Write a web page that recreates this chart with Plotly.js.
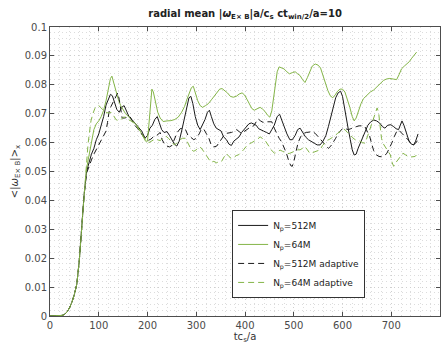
<!DOCTYPE html>
<html>
<head>
<meta charset="utf-8">
<script src="https://cdn.plot.ly/plotly-3.0.1.min.js"></script>
<style>
  html, body { margin: 0; padding: 0; background: #fff; }
  #chart { width: 448px; height: 344px; }
</style>
</head>
<body>
<div id="chart"></div>
<script>
// Shared start-up ramp (all runs grow together before saturating)
const rampT = [0, 20, 25, 30, 35, 40, 45, 50, 55, 60, 65, 70];
const rampV = [0, 0, 0.0002, 0.0006, 0.0014, 0.0028, 0.0048, 0.0075, 0.011, 0.019, 0.031, 0.042];

// N_p = 512M
const t512 = [75, 80, 85, 90, 95, 100, 105, 110, 115, 120, 124, 128, 132, 137, 142, 147, 152, 157, 162, 168, 175, 182, 188, 195, 200, 205, 210, 215, 220, 224, 229, 234, 240, 245, 250, 255, 260, 265, 270, 275, 280, 285, 289, 293, 298, 303, 308, 313, 318, 323, 327, 331, 336, 341, 346, 351, 356, 362, 367, 372, 377, 383, 388, 393, 398, 403, 408, 413, 418, 423, 428, 433, 438, 444, 450, 455, 460, 466, 471, 476, 481, 486, 492, 497, 503, 508, 513, 518, 524, 530, 536, 542, 548, 554, 560, 566, 571, 576, 581, 586, 591, 596, 600, 604, 608, 612, 616, 620, 624, 628, 632, 637, 642, 647, 652, 658, 664, 670, 676, 682, 687, 693, 699, 705, 710, 715, 719, 722, 726, 731, 736, 741, 746, 750, 755];
const v512 = [0.05, 0.053, 0.056, 0.058, 0.061, 0.063, 0.066, 0.069, 0.073, 0.0755, 0.0767, 0.0762, 0.074, 0.0715, 0.0705, 0.0722, 0.0728, 0.071, 0.069, 0.068, 0.0665, 0.065, 0.064, 0.0615, 0.0625, 0.065, 0.066, 0.068, 0.069, 0.067, 0.0645, 0.0635, 0.0638, 0.0625, 0.061, 0.0595, 0.0588, 0.0605, 0.064, 0.068, 0.0725, 0.0755, 0.076, 0.0735, 0.069, 0.066, 0.0645, 0.066, 0.068, 0.0705, 0.0712, 0.069, 0.0665, 0.065, 0.0645, 0.064, 0.062, 0.061, 0.0595, 0.059, 0.0605, 0.0615, 0.062, 0.0635, 0.0645, 0.0655, 0.0665, 0.0668, 0.0665, 0.066, 0.0648, 0.0645, 0.064, 0.0635, 0.063, 0.0645, 0.066, 0.069, 0.0698, 0.0675, 0.065, 0.063, 0.061, 0.061, 0.0625, 0.0645, 0.065, 0.0635, 0.062, 0.061, 0.0605, 0.0598, 0.0592, 0.0592, 0.0605, 0.0625, 0.0655, 0.069, 0.0725, 0.0755, 0.0772, 0.0778, 0.076, 0.072, 0.067, 0.0645, 0.061, 0.0575, 0.0557, 0.056, 0.058, 0.06, 0.0625, 0.0645, 0.066, 0.0672, 0.0678, 0.0675, 0.0668, 0.0655, 0.065, 0.066, 0.0662, 0.0655, 0.0648, 0.0645, 0.0665, 0.0675, 0.066, 0.063, 0.0608, 0.0595, 0.0592, 0.0605, 0.063];

// N_p = 64M
const t64 = [75, 80, 85, 90, 95, 100, 105, 110, 115, 120, 124, 127, 131, 135, 140, 145, 150, 155, 162, 170, 178, 185, 191, 196, 200, 203, 206, 209, 212, 216, 221, 226, 232, 240, 248, 256, 263, 270, 276, 281, 286, 290, 294, 298, 303, 308, 313, 319, 325, 331, 337, 343, 348, 353, 358, 364, 370, 376, 382, 388, 394, 399, 404, 409, 414, 419, 425, 431, 436, 441, 446, 451, 455, 459, 463, 466, 470, 475, 480, 486, 491, 497, 503, 508, 513, 518, 523, 528, 533, 538, 544, 550, 555, 560, 565, 570, 575, 580, 585, 590, 595, 600, 605, 610, 615, 620, 624, 628, 633, 638, 643, 650, 657, 664, 670, 677, 684, 690, 697, 704, 711, 716, 721, 727, 732, 737, 742, 747, 752];
const v64 = [0.051, 0.056, 0.061, 0.0645, 0.0665, 0.0675, 0.069, 0.0712, 0.0745, 0.079, 0.0822, 0.083, 0.0805, 0.078, 0.075, 0.0728, 0.0715, 0.07, 0.0688, 0.0675, 0.066, 0.064, 0.062, 0.0605, 0.0605, 0.066, 0.073, 0.0785, 0.0775, 0.074, 0.0705, 0.0685, 0.0673, 0.0675, 0.0676, 0.068, 0.0688, 0.0705, 0.0725, 0.075, 0.0775, 0.079, 0.0795, 0.077, 0.0745, 0.0728, 0.0722, 0.0728, 0.0735, 0.0748, 0.076, 0.0775, 0.0785, 0.0787, 0.078, 0.0772, 0.076, 0.0757, 0.076, 0.0768, 0.0772, 0.0765, 0.075, 0.0735, 0.0718, 0.0712, 0.0718, 0.0722, 0.0716, 0.0708, 0.0695, 0.0688, 0.071, 0.0755, 0.081, 0.0845, 0.0862, 0.0858, 0.0855, 0.0845, 0.0838, 0.0842, 0.0845, 0.0838, 0.0832, 0.0818, 0.0808, 0.0825, 0.0848, 0.0865, 0.0872, 0.0868, 0.0858, 0.083, 0.0805, 0.078, 0.0762, 0.0755, 0.0765, 0.0778, 0.0785, 0.0785, 0.0775, 0.075, 0.0722, 0.069, 0.0675, 0.0685, 0.0712, 0.0735, 0.0752, 0.0765, 0.0775, 0.0782, 0.0792, 0.0805, 0.0815, 0.082, 0.0822, 0.082, 0.0818, 0.0835, 0.0855, 0.0865, 0.0872, 0.088, 0.0892, 0.0903, 0.0913];

// N_p = 512M adaptive
const t512a = [75, 80, 85, 90, 95, 100, 105, 110, 115, 118, 121, 125, 130, 135, 139, 142, 145, 148, 153, 158, 164, 169, 174, 180, 185, 190, 196, 202, 207, 212, 217, 222, 226, 230, 235, 240, 245, 250, 256, 261, 267, 273, 278, 283, 289, 295, 300, 306, 311, 316, 321, 326, 331, 336, 342, 347, 352, 357, 362, 367, 372, 377, 383, 388, 393, 398, 403, 408, 413, 418, 423, 427, 432, 437, 443, 449, 455, 460, 465, 470, 475, 480, 485, 490, 494, 497, 501, 505, 509, 514, 520, 526, 532, 538, 544, 550, 555, 561, 566, 571, 576, 581, 586, 591, 596, 601, 606, 612, 617, 622, 628, 634, 640, 646, 651, 656, 660, 664, 669, 675, 680, 686, 691, 696, 701, 706, 711, 715, 720, 725, 730, 735, 740, 745, 750, 755];
const v512a = [0.0494, 0.052, 0.054, 0.056, 0.0575, 0.059, 0.061, 0.0625, 0.064, 0.067, 0.0705, 0.0725, 0.0742, 0.076, 0.0772, 0.075, 0.071, 0.0685, 0.0685, 0.0688, 0.069, 0.0675, 0.066, 0.0648, 0.0635, 0.0625, 0.0615, 0.0608, 0.0612, 0.062, 0.0622, 0.063, 0.0635, 0.061, 0.0595, 0.0588, 0.0585, 0.059, 0.0615, 0.0635, 0.0648, 0.065, 0.0645, 0.0625, 0.0618, 0.061, 0.0615, 0.063, 0.0648, 0.0645, 0.063, 0.0615, 0.059, 0.0585, 0.0588, 0.06, 0.0615, 0.0625, 0.0632, 0.0633, 0.0635, 0.0638, 0.0645, 0.0638, 0.0632, 0.0638, 0.0645, 0.065, 0.0655, 0.0658, 0.0672, 0.0682, 0.0675, 0.067, 0.0672, 0.0672, 0.0672, 0.065, 0.0632, 0.0615, 0.0603, 0.0585, 0.0563, 0.0535, 0.052, 0.0518, 0.054, 0.0572, 0.06, 0.062, 0.0632, 0.0635, 0.0636, 0.0638, 0.0632, 0.062, 0.061, 0.0598, 0.0588, 0.058, 0.0588, 0.06, 0.0615, 0.0632, 0.0642, 0.065, 0.0648, 0.0645, 0.0648, 0.065, 0.0655, 0.0658, 0.0658, 0.0655, 0.064, 0.062, 0.0595, 0.0572, 0.0558, 0.0552, 0.0551, 0.0555, 0.0563, 0.058, 0.0598, 0.062, 0.0638, 0.0644, 0.0635, 0.0626, 0.0618, 0.0609, 0.0595, 0.0592, 0.0598, 0.061];

// N_p = 64M adaptive
const t64a = [75, 78, 81, 84, 88, 92, 96, 100, 105, 110, 115, 120, 125, 130, 135, 140, 145, 150, 155, 160, 166, 172, 178, 185, 191, 197, 203, 209, 215, 220, 226, 232, 238, 243, 249, 255, 260, 266, 272, 278, 284, 290, 295, 300, 305, 310, 315, 320, 325, 330, 336, 342, 347, 352, 357, 362, 367, 372, 377, 382, 387, 392, 397, 403, 408, 414, 420, 426, 431, 436, 441, 446, 451, 456, 461, 466, 472, 477, 482, 487, 492, 498, 503, 508, 513, 518, 523, 528, 533, 538, 543, 549, 554, 559, 564, 569, 574, 580, 585, 590, 595, 600, 605, 610, 615, 620, 626, 631, 636, 641, 646, 651, 656, 660, 664, 668, 671, 674, 677, 680, 684, 688, 693, 698, 702, 705, 709, 714, 719, 724, 729, 734, 739, 744, 749, 754];
const v64a = [0.053, 0.0595, 0.0635, 0.0675, 0.07, 0.0718, 0.0728, 0.0728, 0.072, 0.071, 0.0705, 0.0702, 0.0705, 0.0695, 0.068, 0.0676, 0.0678, 0.0688, 0.0688, 0.068, 0.0675, 0.0668, 0.0655, 0.064, 0.0622, 0.0608, 0.06, 0.0605, 0.0612, 0.061, 0.0607, 0.0615, 0.0622, 0.0615, 0.0605, 0.0592, 0.0598, 0.061, 0.0615, 0.0615, 0.0595, 0.0575, 0.057, 0.0575, 0.0585, 0.0582, 0.057, 0.0558, 0.0545, 0.0532, 0.0535, 0.053, 0.0535, 0.0535, 0.055, 0.0562, 0.0552, 0.0545, 0.0548, 0.0555, 0.0558, 0.0565, 0.0575, 0.0588, 0.0595, 0.06, 0.0605, 0.0612, 0.062, 0.0615, 0.0608, 0.0595, 0.058, 0.057, 0.0563, 0.0568, 0.0574, 0.057, 0.0565, 0.0562, 0.0563, 0.0568, 0.0572, 0.0575, 0.0575, 0.058, 0.0586, 0.0575, 0.0563, 0.0565, 0.0568, 0.0572, 0.0575, 0.059, 0.06, 0.0608, 0.0612, 0.0618, 0.0625, 0.0632, 0.0638, 0.0645, 0.0645, 0.0635, 0.063, 0.0618, 0.061, 0.0608, 0.0605, 0.06, 0.0598, 0.062, 0.0645, 0.0665, 0.069, 0.071, 0.072, 0.0705, 0.066, 0.0615, 0.0595, 0.0585, 0.0575, 0.0558, 0.053, 0.0518, 0.053, 0.054, 0.0552, 0.0563, 0.0558, 0.0552, 0.055, 0.055, 0.0552, 0.0562];

const seriesNames = ['N<sub>p</sub>=512M', 'N<sub>p</sub>=64M', 'N<sub>p</sub>=512M adaptive', 'N<sub>p</sub>=64M adaptive'];
const xTickVals = [0, 100, 200, 300, 400, 500, 600, 700, 800];
const yTickVals = [0, 0.01, 0.02, 0.03, 0.04, 0.05, 0.06, 0.07, 0.08, 0.09, 0.1];
const yTickText = ['0', '0.01', '0.02', '0.03', '0.04', '0.05', '0.06', '0.07', '0.08', '0.09', '0.1'];

const BLACK = '#1a1a1a';
const GREEN = '#84b548';
const DASH = '6px,4px';

function withRamp(t, v) {
  return { x: rampT.concat(t), y: rampV.concat(v) };
}

function line(t, v, name, color, dash) {
  const d = withRamp(t, v);
  return {
    x: d.x, y: d.y, name: name, type: 'scatter', mode: 'lines',
    line: { color: color, width: 1, dash: dash || 'solid' },
    hoverinfo: 'skip'
  };
}

const traces = [
  line(t512, v512, seriesNames[0], BLACK),
  line(t64, v64, seriesNames[1], GREEN),
  line(t512a, v512a, seriesNames[2], BLACK, DASH),
  line(t64a, v64a, seriesNames[3], GREEN, DASH)
];

const FONT = 'DejaVu Sans, Liberation Sans, sans-serif';
const GRID_DOT = '1px,3px';
const axisCommon = {
  showline: true, linecolor: '#4d4d4d', linewidth: 1, mirror: 'ticks',
  ticks: 'inside', ticklen: 4, tickcolor: '#4d4d4d', tickwidth: 1,
  showgrid: true, gridcolor: '#cfcfcf', griddash: GRID_DOT, gridwidth: 1,
  zeroline: false,
  tickfont: { family: FONT, size: 10, color: '#4a4a4a' }
};

const layout = {
  width: 448, height: 344,
  margin: { l: 50, r: 8, t: 27, b: 28 },
  paper_bgcolor: '#fff', plot_bgcolor: '#fff',
  font: { family: FONT, color: '#333' },
  showlegend: true,
  title: {
    text: '<b>radial mean |<i>ω</i><sub>E× B</sub>|a/c<sub>s</sub> ct<sub>win/2</sub>/a=10</b>',
    font: { family: FONT, size: 10, color: '#222' },
    x: 0.547, xanchor: 'center', y: 0.962, yanchor: 'middle'
  },
  xaxis: Object.assign({}, axisCommon, {
    range: [0, 800], tickvals: xTickVals,
    minor: { dtick: 20, showgrid: true, gridcolor: '#dcdcdc', griddash: GRID_DOT, ticks: '' },
    title: { text: 'tc<sub>s</sub>/a', font: { family: FONT, size: 10, color: '#333' }, standoff: 2 }
  }),
  yaxis: Object.assign({}, axisCommon, {
    range: [0, 0.1], tickvals: yTickVals, ticktext: yTickText,
    minor: { dtick: 0.002, showgrid: true, gridcolor: '#dcdcdc', griddash: GRID_DOT, ticks: '' },
    title: { text: '&lt;|<i>ω</i><sub>E× B</sub>|&gt;<sub>x</sub>', font: { family: FONT, size: 10, color: '#333' }, standoff: 4 }
  }),
  legend: {
    x: 0.467, y: 0.367, xanchor: 'left', yanchor: 'top',
    bgcolor: '#fff', bordercolor: '#333', borderwidth: 1,
    font: { family: FONT, size: 9, color: '#222' },
    tracegroupgap: 0
  }
};

Plotly.newPlot('chart', traces, layout, { staticPlot: true, displayModeBar: false });
</script>
</body>
</html>
